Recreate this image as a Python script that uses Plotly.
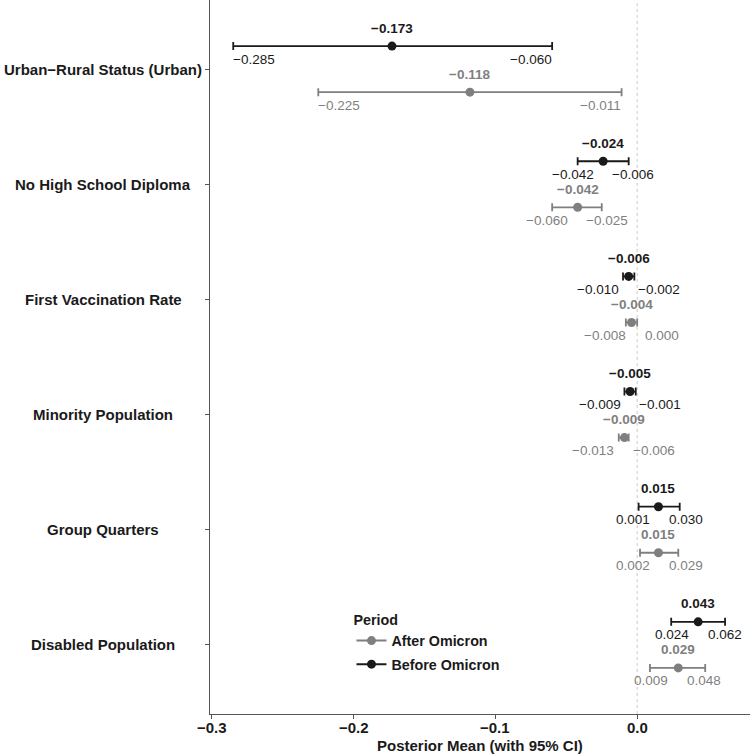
import plotly.graph_objects as go

categories = ["Urban\u2212Rural Status (Urban)", "No High School Diploma", "First Vaccination Rate",
              "Minority Population", "Group Quarters", "Disabled Population"]
before_mean = [-0.173, -0.024, -0.006, -0.005, 0.015, 0.043]
before_lo = [-0.285, -0.042, -0.010, -0.009, 0.001, 0.024]
before_hi = [-0.060, -0.006, -0.002, -0.001, 0.030, 0.062]
after_mean = [-0.118, -0.042, -0.004, -0.009, 0.015, 0.029]
after_lo = [-0.225, -0.060, -0.008, -0.013, 0.002, 0.009]
after_hi = [-0.011, -0.025, 0.000, -0.006, 0.029, 0.048]
x_ticks = [-0.3, -0.2, -0.1, 0.0]
x_tick_labels = ["\u22120.3", "\u22120.2", "\u22120.1", "0.0"]

BLACK = "#1a1a1a"
GREY = "#7f7f7f"
FONT = "Liberation Sans, Arial, sans-serif"
LBL = 13.5

W, H = 750, 754
ML, MR, MT, MB = 210, 0, 0, 40
xr = [-0.3014, 0.0796]
px_per_unit = (W - ML - MR) / (xr[1] - xr[0])
plot_h = H - MT - MB

n = len(categories)
ypos = [n - 1 - i for i in range(n)]
dodge = 0.2


def fmt(v):
    s = f"{abs(v):.3f}"
    return ("\u2212" + s) if v < 0 else s


def text_w(s, size):
    w = {"\u2212": 0.584, ".": 0.278}
    return sum(w.get(c, 0.556) for c in s) * size


fig = go.Figure()
annotations = []

series = [
    ("Before Omicron", before_mean, before_lo, before_hi, BLACK, +dodge),
    ("After Omicron", after_mean, after_lo, after_hi, GREY, -dodge),
]

for name, m, lo, hi, col, off in series:
    ys = [y + off for y in ypos]
    fig.add_trace(go.Scatter(
        x=m, y=ys, mode="markers",
        marker=dict(color=col, size=9),
        error_x=dict(type="data", symmetric=False,
                     array=[h - a for h, a in zip(hi, m)],
                     arrayminus=[a - l for a, l in zip(m, lo)],
                     color=col, thickness=1.8, width=4),
        showlegend=False, hoverinfo="skip"))
    for i in range(n):
        annotations.append(dict(x=m[i], y=ys[i], text="<b>" + fmt(m[i]) + "</b>",
                                showarrow=False, yshift=18, xanchor="center",
                                font=dict(family=FONT, size=LBL, color=col)))
        # bound labels: inward-aligned, repelled apart when they would collide
        tl, th = fmt(lo[i]), fmt(hi[i])
        wl, wh = text_w(tl, LBL), text_w(th, LBL)
        lo_px, hi_px = lo[i] * px_per_unit, hi[i] * px_per_unit
        cl, ch = lo_px + wl / 2, hi_px - wh / 2
        need = (wl + wh) / 2 + 19
        if ch - cl < need:
            mid = (cl + ch) / 2
            cl, ch = mid - need / 2, mid + need / 2
        annotations.append(dict(x=lo[i], y=ys[i], text=tl, showarrow=False,
                                yshift=-13, xshift=cl - lo_px, xanchor="center",
                                font=dict(family=FONT, size=LBL, color=col)))
        annotations.append(dict(x=hi[i], y=ys[i], text=th, showarrow=False,
                                yshift=-13, xshift=ch - hi_px, xanchor="center",
                                font=dict(family=FONT, size=LBL, color=col)))

# centred category labels
for c, y in zip(categories, ypos):
    annotations.append(dict(x=-0.198, xref="paper", y=y, yref="y", text="<b>" + c + "</b>",
                            showarrow=False, xanchor="center", yanchor="middle",
                            font=dict(family=FONT, size=15, color=BLACK)))

# x tick labels (placed closer to the axis than plotly's default)
for v, t in zip(x_ticks, x_tick_labels):
    annotations.append(dict(x=v, xref="x", y=-13 / plot_h, yref="paper", text="<b>" + t + "</b>",
                            showarrow=False, xanchor="center", yanchor="middle",
                            font=dict(family=FONT, size=15, color=BLACK)))

# x-axis title
annotations.append(dict(x=0.5, xref="paper", y=-31 / plot_h, yref="paper",
                        text="<b>Posterior Mean (with 95% CI)</b>", showarrow=False,
                        xanchor="center", yanchor="middle",
                        font=dict(family=FONT, size=15, color=BLACK)))

# legend entries
fig.add_trace(go.Scatter(x=[None], y=[None], mode="lines+markers", name="After Omicron",
                         legendgroup="a",
                         line=dict(color=GREY, width=2), marker=dict(color=GREY, size=9)))
fig.add_trace(go.Scatter(x=[None], y=[None], mode="lines+markers", name="Before Omicron",
                         legendgroup="b",
                         line=dict(color=BLACK, width=2), marker=dict(color=BLACK, size=9)))

fig.add_shape(type="line", x0=0, x1=0, y0=0, y1=1, xref="x", yref="paper",
              line=dict(color="#cccccc", width=1, dash="3px,3px"), layer="below")

fig.update_layout(
    width=W, height=H,
    margin=dict(l=ML, r=MR, t=MT, b=MB),
    plot_bgcolor="white", paper_bgcolor="white",
    font=dict(family=FONT, color=BLACK),
    annotations=annotations,
    showlegend=True,
    legend=dict(x=0.262, y=0.151, xanchor="left", yanchor="top",
                title=dict(text="<b>Period</b>", font=dict(size=14.3, color=BLACK)),
                font=dict(size=14.3, color=BLACK, weight="bold"),
                bgcolor="rgba(0,0,0,0)", itemwidth=30, tracegroupgap=2),
    xaxis=dict(range=xr, tickvals=x_ticks, ticktext=[""] * len(x_ticks),
               showgrid=False, zeroline=False, showline=True, linecolor="#555555", linewidth=1,
               ticks="outside", ticklen=4, tickcolor="#555555",
               automargin=False),
    yaxis=dict(range=[-0.6, n - 1 + 0.6], tickvals=ypos, ticktext=[""] * n,
               showgrid=False, zeroline=False, showline=True, linecolor="#555555", linewidth=1,
               ticks="outside", ticklen=4, tickcolor="#555555",
               automargin=False),
)

fig.write_html("out.html")
